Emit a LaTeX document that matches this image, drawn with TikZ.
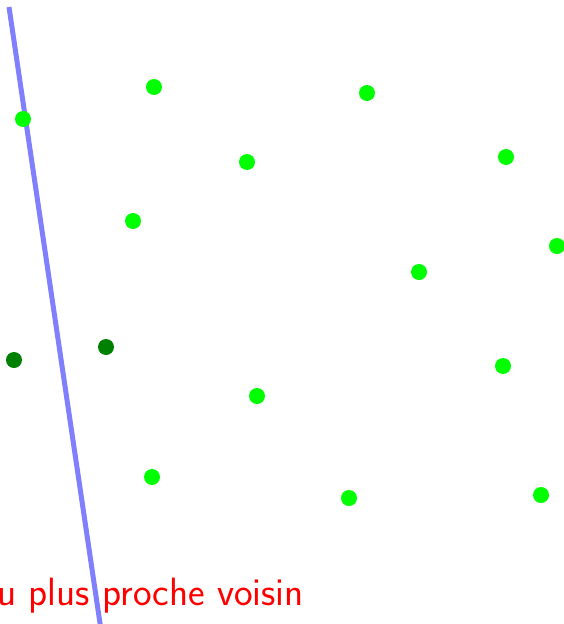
\documentclass[tikz,border=0pt]{standalone}
\usepackage{tikz}
\usetikzlibrary{positioning}
\definecolor{vert}{RGB}{0,255,0}
\definecolor{vertfonce}{RGB}{0,128,0}
\tikzset{
  pt/.style={circle, fill=vert, inner sep=0pt, minimum size=16pt},
  ptfonce/.style={circle, fill=vertfonce, inner sep=0pt, minimum size=16pt},
}

\begin{document}
\begin{tikzpicture}[x=1pt, y=-1pt]
        \useasboundingbox (0,0) rectangle (564,624);
        \clip (0,0) rectangle (564,624);
        \path 
        (9,7)  coordinate (haut)
        (101,630) coordinate (bas)
        ;

        % titre coupe
        \node[red, anchor=base west, inner sep=0pt, font=\sffamily\fontsize{39.5}{44}\selectfont] (titre) at (-3,605) {u plus proche voisin};

        \draw[blue!50, line width=5pt] (haut) -- (bas);

        \path 
        (154,87) node[pt] (p1) {}
        (367,93) node[pt] (p2) {}
        (23,119) node[pt] (p3) {}
        (247,162) node[pt] (p4) {}
        (506,157) node[pt] (p5) {}
        (133,221) node[pt] (p6) {}
        (557,246) node[pt] (p7) {}
        (419,272) node[pt] (p8) {}
        (503,366) node[pt] (p9) {}
        (257,396) node[pt] (p10) {}
        (152,477) node[pt] (p11) {}
        (349,498) node[pt] (p12) {}
        (541,495) node[pt] (p13) {}
        (14,360) node[ptfonce] (q1) {}
        (106,347) node[ptfonce] (q2) {}
        ;
\end{tikzpicture}
\end{document}
